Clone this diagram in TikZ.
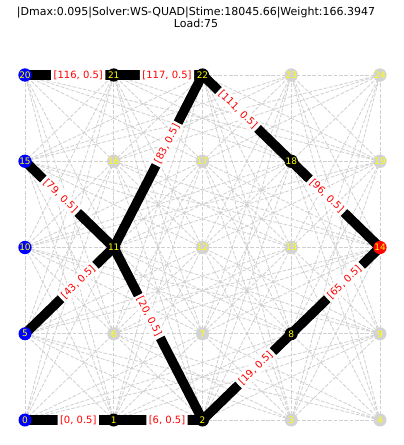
\documentclass[tikz,border=0pt]{standalone}
\usepackage{fontspec}
\setmainfont{DejaVu Sans}
\definecolor{bgedge}{RGB}{208,208,208}
\definecolor{nodegrey}{RGB}{211,211,211}
\definecolor{labred}{RGB}{255,0,0}
\definecolor{labyellow}{RGB}{255,255,0}
\begin{document}
\begin{tikzpicture}[x=1pt,y=-1pt,
  bg/.style={draw=bgedge,line width=0.8pt,dash pattern=on 3.7pt off 1.6pt},
  heavy/.style={draw=black,line width=9.5pt},
  nd/.style={circle,inner sep=0pt,minimum size=13pt,text=labyellow,font=\fontsize{9}{9}\selectfont},
  elab/.style={fill=white,rounded corners=2pt,inner sep=2.5pt,text=labred,font=\fontsize{10}{10}\selectfont,pos=0.6,sloped},
  ttl/.style={font=\fontsize{11}{11}\selectfont,inner sep=0pt}]
\useasboundingbox (0,0) rectangle (404,445);
\fill[white] (0,0) rectangle (404,445);
\foreach \n in {0,...,24}{
  \pgfmathtruncatemacro\ci{mod(\n,5)}
  \pgfmathtruncatemacro\cj{div(\n,5)}
  \coordinate (c\n) at ({25+88.75*\ci},{420-86.25*\cj});
}
% background dashed edges
\foreach \a in {0,...,24}{
  \foreach \b in {0,...,24}{
    \pgfmathtruncatemacro\ok{and(\b>\a, or(abs(mod(\b,5)-mod(\a,5))==1, abs(div(\b,5)-div(\a,5))==1))}
    \ifnum\ok=1 \draw[bg] (c\a) -- (c\b); \fi
  }
}
% heavy path edges
\foreach \a/\b in {20/21,21/22,11/22,18/22,14/18,11/15,5/11,2/11,2/8,8/14,0/1,1/2}{
  \draw[heavy] (c\a) -- (c\b);
}
% edge labels
\foreach \a/\b/\t in {20/21/{[116, 0.5]},21/22/{[117, 0.5]},11/22/{[83, 0.5]},18/22/{[111, 0.5]},14/18/{[96, 0.5]},11/15/{[79, 0.5]},5/11/{[43, 0.5]},2/11/{[20, 0.5]},2/8/{[19, 0.5]},8/14/{[65, 0.5]},0/1/{[0, 0.5]},1/2/{[6, 0.5]}}{
  \path (c\a) -- (c\b) node[elab] (l\a-\b) {\t};
}
% nodes
\foreach \n/\col in {0/blue,5/blue,10/blue,15/blue,20/blue,1/black,2/black,8/black,11/black,18/black,21/black,22/black,14/labred,3/nodegrey,4/nodegrey,6/nodegrey,7/nodegrey,9/nodegrey,12/nodegrey,13/nodegrey,16/nodegrey,17/nodegrey,19/nodegrey,23/nodegrey,24/nodegrey}{
  \node[nd,fill=\col] (n\n) at (c\n) {\n};
}
\node[ttl] (title) at (196,12.3) {|Dmax:0.095|Solver:WS-QUAD|Stime:18045.66|Weight:166.3947};
\node[ttl] (load) at (196,23.6) {Load:75};
\end{tikzpicture}
\end{document}
